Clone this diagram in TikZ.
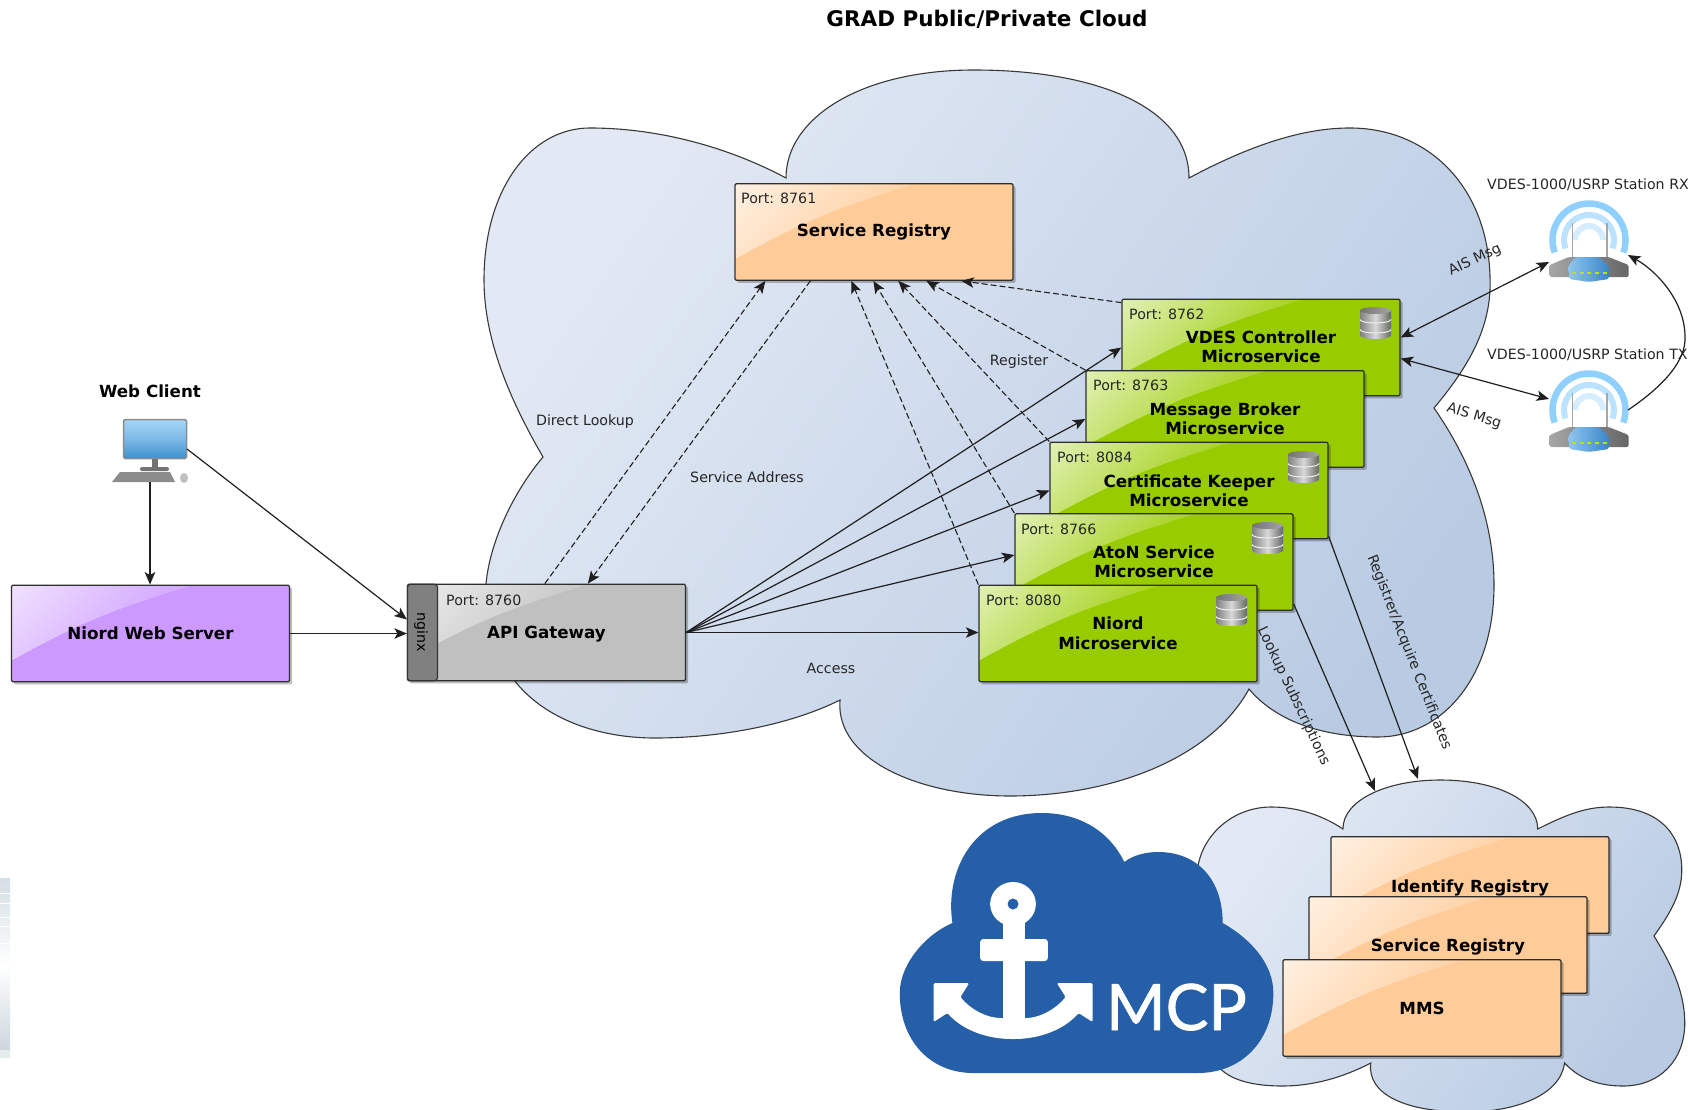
\documentclass[tikz,border=0pt]{standalone}
\usepackage{fontspec}
\setmainfont{DejaVu Sans}
\newfontfamily\mcpfont[FakeBold=1.2]{Lato}
\usetikzlibrary{calc,shadows,arrows.meta}
\definecolor{boxgreen}{HTML}{99CC00}
\definecolor{boxorange}{HTML}{FFCC99}
\definecolor{boxpurple}{HTML}{CC99FF}
\definecolor{boxgray}{HTML}{C0C0C0}
\definecolor{cloudA}{HTML}{E2E9F4}
\definecolor{cloudB}{HTML}{B9CBE3}
\definecolor{mcpblue}{HTML}{255FA8}
\definecolor{ringA}{HTML}{8FD0FF}
\definecolor{ringB}{HTML}{BBE2FF}
\definecolor{ringC}{HTML}{D5EDFF}
\definecolor{routerL}{HTML}{8EC5EE}
\definecolor{routerR}{HTML}{3A85C8}
\definecolor{screenT}{HTML}{A5D6F6}
\definecolor{screenB}{HTML}{3F8FD0}
\definecolor{stripeA}{HTML}{D5DEE5}
\definecolor{stripeB}{HTML}{CDD6DD}
\newcommand{\declgloss}[1]{\pgfdeclareverticalshading{gloss#1}{100bp}{color(0bp)=(#1!90!white); color(50bp)=(#1!90!white); color(100bp)=(#1!4!white)}}
\declgloss{boxgreen}
\declgloss{boxorange}
\declgloss{boxpurple}
\declgloss{boxgray}
\newcommand{\nudge}[2]{\raisebox{#1}[12pt][3.5pt]{#2}}
\tikzset{
  glossbox/.style={draw=black!82,line width=1.3pt,rounded corners=1.2pt,fill=#1,minimum width=278pt,minimum height=96.5pt,inner sep=0pt,align=center,
    font=\fontsize{16.7}{19.3}\selectfont\bfseries,
    drop shadow={shadow xshift=2.5pt,shadow yshift=-2.5pt,fill=black,opacity=.25},
    path picture={\shade[shading=gloss#1,shading angle=45,sharp corners]
      (path picture bounding box.north west)
      -- ($(path picture bounding box.north west)!.65!(path picture bounding box.north east)$)
      .. controls ($(path picture bounding box.north west)!.42!(path picture bounding box.east)$) and ($(path picture bounding box.north west)!.3!(path picture bounding box.south east)$) ..
      ($(path picture bounding box.north west)!.78!(path picture bounding box.south west)$) -- cycle;}},
  cloudshape/.style={draw=black!78,line width=1.1pt,left color=cloudA,right color=cloudB,shading angle=55},
  portlabel/.style={font=\fontsize{14.2}{16}\selectfont,anchor=west,inner sep=0pt,text=black!85},
  edgelabel/.style={font=\fontsize{14.2}{16}\selectfont,inner sep=0pt,text=black!85},
  boldlabel/.style={font=\fontsize{16.7}{19}\selectfont\bfseries,inner sep=0pt},
  solidarrow/.style={draw=black!88,line width=1.2pt,-{Stealth[length=12.5pt,width=10.5pt,inset=3pt]}},
  bothways/.style={draw=black!88,line width=1.2pt,{Stealth[length=12.5pt,width=10.5pt,inset=3pt]}-{Stealth[length=12.5pt,width=10.5pt,inset=3pt]}},
  dasharrow/.style={draw=black!88,line width=1.1pt,dash pattern=on 6pt off 3pt,-{Stealth[length=12.5pt,width=10.5pt,inset=3pt]}},
}
\newcommand{\dbicon}[2]{%
  \begin{scope}[shift={(#1,#2)}]
    \shade[left color=black!50,right color=black!60,middle color=black!15,draw=none]
      (0,3.5) -- (0,28.5) arc (180:0:15.5 and 3.5) -- (31,3.5) -- cycle;
    \shade[left color=black!55,right color=black!35] (15.5,3.5) ellipse (15.5 and 3.5);
    \draw[black!6,line width=1pt] (0,12.5) arc (180:0:15.5 and 3.5);
    \draw[black!6,line width=1pt] (0,22.5) arc (180:0:15.5 and 3.5);
  \end{scope}}
\newcommand{\routericon}[2]{%
  \begin{scope}[shift={(#1,#2)}]
    \draw[line width=6.5pt,draw=ringA] (-34.3,12.5) arc (160:380:36.5);
    \draw[line width=6pt,draw=ringB] (-23.5,8.5) arc (160:380:25);
    \draw[line width=6pt,draw=ringC] (-14,0) arc (180:360:14);
    \draw[line width=1.8pt,black!35] (-16.5,-17) -- (-16.5,20);
    \draw[line width=1.8pt,black!35] (18,-17) -- (18,20);
    \shade[left color=black!35,right color=black!60,rounded corners=1.5pt] (-39.5,25) -- (-20,17) -- (19.5,17) -- (39.5,25) -- (39.5,37) -- (-39.5,37) -- cycle;
    \shade[left color=routerL,right color=routerR,rounded corners=2pt] (-20.5,25) -- (-13,17) -- (10,17) -- (20.5,27) -- (20,39) -- (0,42) -- (-20,39) -- cycle;
    \foreach \xx in {-15,-7,0,8,16}{\fill[yellow!75!green] (\xx-2,32) rectangle (\xx+2,34);}
  \end{scope}}
\begin{document}
\begin{tikzpicture}[x=1pt,y=-1pt]
\useasboundingbox (0,0) rectangle (1688,1110);
% faint artefact at the left edge
\shade[top color=stripeA,bottom color=white,draw=none] (0,878) rectangle (10,965);
\shade[top color=white,bottom color=stripeB,draw=none] (0,965) rectangle (10,1050);
\fill[stripeB!50!white] (0,1050) rectangle (10,1058);
\foreach \yy in {893,903,917,926,943}{\draw[white,line width=1pt] (0,\yy) -- (10,\yy);}
% title
\node[font=\fontsize{21.5}{25}\selectfont\bfseries,inner sep=0pt] (title) at (987,19) {GRAD Public/Private Cloud};
% main cloud
\shade[cloudshape] (786,178) .. controls (786,118) and (861,70) .. (974,70)
  .. controls (1098,70) and (1189,108) .. (1189,178)
  .. controls (1260,140) and (1310,128) .. (1350,128)
  .. controls (1430,128) and (1493,190) .. (1490,290)
  .. controls (1488,330) and (1470,365) .. (1434,408)
  .. controls (1470,460) and (1494,520) .. (1494,585)
  .. controls (1494,680) and (1440,737) .. (1378,737)
  .. controls (1320,737) and (1275,720) .. (1249,689)
  .. controls (1210,760) and (1110,796) .. (1010,796)
  .. controls (920,796) and (835,760) .. (840,700)
  .. controls (790,725) and (720,738) .. (655,738)
  .. controls (600,738) and (545,720) .. (514,680)
  .. controls (490,650) and (482,620) .. (486,584)
  .. controls (490,540) and (515,490) .. (543,457)
  .. controls (510,400) and (484,340) .. (484,280)
  .. controls (484,190) and (530,128) .. (590,128)
  .. controls (660,128) and (730,148) .. (786,178) -- cycle;
% small cloud and logo share one horizontal correction
\begin{scope}[shift={(5.4,0)},xscale=.9937]
\shade[cloudshape] (1346,829) .. controls (1346,800) and (1390,780) .. (1444,780)
  .. controls (1500,780) and (1542,800) .. (1542,829)
  .. controls (1570,815) and (1590,807) .. (1614,807)
  .. controls (1665,807) and (1687,835) .. (1687,870)
  .. controls (1687,895) and (1674,915) .. (1659,936)
  .. controls (1674,960) and (1690,990) .. (1690,1023)
  .. controls (1690,1060) and (1665,1086) .. (1628,1086)
  .. controls (1605,1086) and (1585,1080) .. (1569,1063)
  .. controls (1565,1095) and (1520,1112) .. (1470,1112)
  .. controls (1410,1112) and (1370,1095) .. (1374,1063)
  .. controls (1345,1078) and (1315,1086) .. (1285,1086)
  .. controls (1255,1086) and (1235,1080) .. (1224,1070)
  -- (1200,867)
  .. controls (1205,835) and (1235,807) .. (1274,807)
  .. controls (1300,807) and (1325,815) .. (1346,829) -- cycle;
\fill[mcpblue] (974,1073) .. controls (930,1073) and (900,1040) .. (900,993)
  .. controls (900,965) and (925,935) .. (953,923)
  .. controls (945,870) and (975,813) .. (1043,813)
  .. controls (1085,813) and (1113,835) .. (1126,862)
  .. controls (1135,855) and (1148,852) .. (1160,852)
  .. controls (1200,852) and (1225,880) .. (1225,923)
  .. controls (1255,940) and (1276,965) .. (1276,993)
  .. controls (1276,1040) and (1245,1073) .. (1200,1073) -- cycle;
\fill[white] (1014,904) ellipse (23 and 22);
\fill[mcpblue] (1014,904) circle (5.5);
\fill[white] (1003.5,920) rectangle (1026,1025);
\fill[white,rounded corners=3pt] (981,939) rectangle (1049,961);
\fill[white,rounded corners=1.5pt] (934,983) -- (970,983) -- (961,997)
  .. controls (972,1010) and (988,1018) .. (1003,1018) -- (1026,1018)
  .. controls (1040,1018) and (1056,1010) .. (1067,997) -- (1058,983) -- (1094,983) -- (1094,1022) -- (1080,1013)
  .. controls (1065,1030) and (1040,1039) .. (1014,1039)
  .. controls (988,1039) and (963,1030) .. (948,1013) -- (934,1022) -- cycle;
\end{scope}
\node[font=\fontsize{64}{64}\selectfont\mcpfont,text=white,inner sep=0pt,anchor=base west] (mcp) at (1106,1030) {MCP};
% nodes
\node[glossbox=boxorange] (sr) at (874,232) {\nudge{0pt}{Service Registry}};
\node[portlabel] (srport) at (741,198) {Port: 8761};
\node[glossbox=boxgreen] (vdes) at (1261,347.5) {\raisebox{1pt}{VDES Controller}\\\raisebox{1pt}{Microservice}};
\node[portlabel] (vdesport) at (1129,314) {Port: 8762};
\dbicon{1360}{307}
\node[glossbox=boxgreen] (msg) at (1225,419) {Message Broker\\Microservice};
\node[portlabel] (msgport) at (1093,385) {Port: 8763};
\node[glossbox=boxgreen] (cert) at (1189,490.5) {Certificate Keeper\\Microservice};
\node[portlabel] (certport) at (1057,457) {Port: 8084};
\dbicon{1288}{451}
\node[glossbox=boxgreen] (aton) at (1154,562) {AtoN Service\\Microservice};
\node[portlabel] (atonport) at (1021,529) {Port: 8766};
\dbicon{1252}{522}
\node[glossbox=boxgreen] (niord) at (1118,633.5) {\raisebox{1pt}{Niord}\\\raisebox{1pt}{Microservice}};
\node[portlabel] (niordport) at (986,600) {Port: 8080};
\dbicon{1216}{594}
\node[glossbox=boxgray] (gw) at (546.5,632.5) {\nudge{-2pt}{API Gateway}};
\node[portlabel] (gwport) at (446,600) {Port: 8760};
\node[draw=black!80,line width=1.2pt,fill=black!50,rounded corners=3pt,minimum width=30pt,minimum height=96.5pt,inner sep=0pt] (nginx) at (422.5,632.5) {};
\node[font=\fontsize{14.2}{16}\selectfont,rotate=-90,inner sep=0pt] (nginxtext) at (421,632) {nginx};
\node[glossbox=boxpurple] (web) at (150.5,633.5) {\nudge{-2pt}{Niord Web Server}};
\node[glossbox=boxorange] (idr) at (1470,885) {\\\raisebox{1pt}{Identify Registry}};
\node[glossbox=boxorange] (srr) at (1448,945) {\\\raisebox{2pt}{Service Registry}};
\node[glossbox=boxorange] (mms) at (1422,1008) {MMS};
% web client
\node[boldlabel] (clientlabel) at (150,391) {Web Client};
\node[draw=black!45,line width=1.5pt,rounded corners=1.5pt,minimum width=63pt,minimum height=39pt,inner sep=0pt,top color=screenT,bottom color=screenB,middle color=screenT!60!screenB] (client) at (155,439) {};
\fill[black!55] (152,459) rectangle (158,468);
\fill[black!55,rounded corners=2pt] (140,467) rectangle (169,471);
\fill[black!45] (120,472) -- (170,472) -- (175,482) -- (112,482) -- cycle;
\fill[black!25] (184,478) ellipse (4 and 5);
\coordinate (clientbase) at (150,482);
\coordinate (clientside) at (187,449);
% routers
\routericon{1589}{240}
\routericon{1589}{410}
\coordinate (rxleft) at (1549,262);
\coordinate (txleft) at (1549,399);
\coordinate (rxright) at (1628,255);
\coordinate (txright) at (1628,410);
\coordinate (mcpin1) at (1375,791);
\coordinate (mcpin2) at (1418,779);
\node[edgelabel,anchor=west] (rxlabel) at (1487,185) {VDES-1000/USRP Station RX};
\node[edgelabel,anchor=west] (txlabel) at (1487,355) {VDES-1000/USRP Station TX};
% connectors
\draw[solidarrow] (clientbase) -- (clientbase |- web.north);
\draw[solidarrow] (clientside) -- ($(nginx.west)+(0,-13)$);
\draw[solidarrow] (web.east) -- (web.east -| nginx.west);
\draw[solidarrow] (gw.east) -- (vdes.west);
\draw[solidarrow] (gw.east) -- (msg.west);
\draw[solidarrow] (gw.east) -- (cert.west);
\draw[solidarrow] (gw.east) -- ($(aton.west)+(0,-7)$);
\draw[solidarrow] (gw.east) -- (gw.east -| niord.west);
\draw[dasharrow] ($(gw.north west)+(138,0)$) -- ($(sr.south west)+(31,0)$);
\draw[dasharrow] ($(sr.south west)+(76,0)$) -- ($(gw.north west)+(181,0)$);
\draw[dasharrow] (niord.north west) -- ($(sr.south west)+(117,0)$);
\draw[dasharrow] (aton.north west) -- ($(sr.south west)+(139,0)$);
\draw[dasharrow] (cert.north west) -- ($(sr.south west)+(164,0)$);
\draw[dasharrow] (msg.north west) -- ($(sr.south west)+(192,0)$);
\draw[dasharrow] ($(vdes.north west)+(0,4)$) -- ($(sr.south west)+(227,0)$);
\draw[bothways] ($(vdes.east)+(0,-10)$) -- (rxleft);
\draw[bothways] ($(vdes.east)+(0,11)$) -- (txleft);
\draw[solidarrow] (txright) .. controls (1665,385) and (1686,360) .. (1685,337) .. controls (1685,300) and (1655,270) .. (rxright);
\draw[solidarrow] ($(aton.south east)+(0,-7)$) -- (mcpin1);
\draw[solidarrow] ($(cert.south east)+(0,-3)$) -- (mcpin2);
% labels
\node[edgelabel] (l1) at (585,422) {Direct Lookup};
\node[edgelabel] (l2) at (747,477) {Service Address};
\node[edgelabel] (l3) at (1019,362) {Register};
\node[edgelabel] (l4) at (831,668) {Access};
\node[edgelabel,rotate=-64.7] (l5) at (1293.5,696) {Lookup Subscriptions};
\node[edgelabel,rotate=-68.5] (l6) at (1409,652.5) {Registrer/Acquire Certificates};
\node[edgelabel,rotate=25] (l7) at (1475,260) {AIS Msg};
\node[edgelabel,rotate=-17] (l8) at (1474,416) {AIS Msg};
\end{tikzpicture}
\end{document}
